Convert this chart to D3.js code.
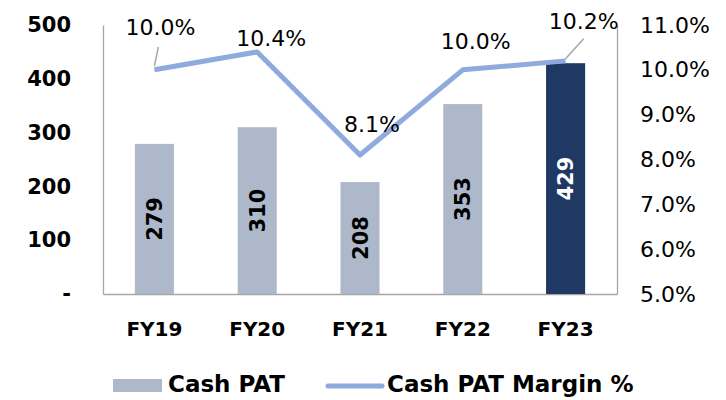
<!DOCTYPE html>
<html>
<head>
<meta charset="utf-8">
<script src="https://cdn.jsdelivr.net/npm/d3@7"></script>
<style>
  body { margin: 0; background: #fff; }
  svg text { font-family: "DejaVu Sans", sans-serif; }
</style>
</head>
<body>
<div id="chart"></div>
<script>
// data
var years = ["FY19", "FY20", "FY21", "FY22", "FY23"];
var cashPat = [279, 310, 208, 353, 429];
var patMargin = [10.0, 10.4, 8.1, 10.0, 10.2];
var leftTicks = [0, 100, 200, 300, 400, 500];
var rightTicks = [5, 6, 7, 8, 9, 10, 11];

var width = 726, height = 400;
var margin = {top: 25, right: 109, bottom: 106, left: 103};
var font = "DejaVu Sans";

var svg = d3.select("#chart").append("svg")
    .attr("width", width)
    .attr("height", height);

// x scale, Excel style gap between bars
var x = d3.scaleBand()
    .domain(years)
    .range([margin.left, width - margin.right])
    .paddingInner(0.62)
    .paddingOuter(0.31);

var yLeft = d3.scaleLinear()
    .domain([0, 500])
    .range([height - margin.bottom, margin.top]);

var yRight = d3.scaleLinear()
    .domain([5, 11])
    .range([height - margin.bottom, margin.top]);

var gridColor = "#a6a6a6";

// left axis
var leftAxis = svg.append("g")
    .attr("transform", "translate(" + margin.left + ",0)")
    .attr("font-family", font)
    .call(d3.axisLeft(yLeft)
        .tickValues(leftTicks)
        .tickSize(0)
        .tickPadding(32)
        .tickFormat(function (d) { return d === 0 ? "-" : d; }));
leftAxis.selectAll("text")
    .style("font-size", "21px")
    .style("font-weight", "bold")
    .attr("fill", "#000");

// right axis
var rightAxis = svg.append("g")
    .attr("transform", "translate(" + (width - margin.right) + ",0)")
    .attr("font-family", font)
    .call(d3.axisRight(yRight)
        .tickValues(rightTicks)
        .tickSize(0)
        .tickPadding(23)
        .tickFormat(function (d) { return d.toFixed(1) + "%"; }));
rightAxis.selectAll("text")
    .style("font-size", "22px")
    .attr("fill", "#000");

// bottom axis
var bottomAxis = svg.append("g")
    .attr("transform", "translate(0," + (height - margin.bottom) + ")")
    .attr("font-family", font)
    .call(d3.axisBottom(x).tickSize(0).tickSizeOuter(0).tickPadding(28));
bottomAxis.selectAll("text")
    .style("font-size", "20px")
    .style("font-weight", "bold")
    .attr("fill", "#000");

svg.selectAll(".domain")
    .attr("stroke", gridColor)
    .attr("stroke-width", 1.3);

// bars
svg.append("g").selectAll("rect")
    .data(cashPat)
    .enter().append("rect")
    .attr("x", function (d, i) { return x(years[i]); })
    .attr("y", function (d) { return yLeft(d); })
    .attr("width", x.bandwidth())
    .attr("height", function (d) { return yLeft(0) - yLeft(d); })
    .attr("fill", function (d, i) { return i === years.length - 1 ? "#203864" : "#adb9ca"; });

// bar labels, rotated
svg.append("g").selectAll("text")
    .data(cashPat)
    .enter().append("text")
    .attr("transform", function (d, i) {
        var cx = x(years[i]) + x.bandwidth() / 2;
        var cy = (yLeft(d) + yLeft(0)) / 2;
        return "translate(" + cx + "," + cy + ") rotate(-90)";
    })
    .attr("text-anchor", "middle")
    .attr("dy", "0.36em")
    .style("font-size", "21px")
    .style("font-weight", "bold")
    .attr("fill", function (d, i) { return i === years.length - 1 ? "#fff" : "#000"; })
    .text(function (d) { return d; });

// margin line
var line = d3.line()
    .x(function (d, i) { return x(years[i]) + x.bandwidth() / 2; })
    .y(function (d) { return yRight(d); });

svg.append("path")
    .datum(patMargin)
    .attr("d", line)
    .attr("fill", "none")
    .attr("stroke", "#8faadc")
    .attr("stroke-width", 5)
    .attr("stroke-linejoin", "round");

// label placement around the points (dx, dy of the label centre)
var labelShift = [[6, -43], [14, -14], [12, -31], [13, -29], [18, -40]];
// leader lines for the labels that sit away from their point
var leaders = [[0, 4, -23, 0, -4], [4, 18, -22, 0, -2]];

leaders.forEach(function (l) {
    var i = l[0];
    var px = x(years[i]) + x.bandwidth() / 2;
    var py = yRight(patMargin[i]);
    svg.append("line")
        .attr("x1", px + l[1]).attr("y1", py + l[2])
        .attr("x2", px + l[3]).attr("y2", py + l[4])
        .attr("stroke", gridColor)
        .attr("stroke-width", 1.5);
});

svg.append("g").selectAll("text")
    .data(patMargin)
    .enter().append("text")
    .attr("x", function (d, i) { return x(years[i]) + x.bandwidth() / 2 + labelShift[i][0]; })
    .attr("y", function (d, i) { return yRight(d) + labelShift[i][1]; })
    .attr("dy", "0.36em")
    .attr("text-anchor", "middle")
    .style("font-size", "22px")
    .attr("fill", "#000")
    .text(function (d) { return d.toFixed(1) + "%"; });

// legend
var legend = svg.append("g");
legend.append("rect")
    .attr("x", 113).attr("y", 379)
    .attr("width", 49).attr("height", 13)
    .attr("fill", "#adb9ca");
legend.append("text")
    .attr("x", 168).attr("y", 392)
    .style("font-size", "23px")
    .style("font-weight", "bold")
    .text("Cash PAT");
legend.append("line")
    .attr("x1", 328).attr("x2", 382)
    .attr("y1", 386).attr("y2", 386)
    .attr("stroke", "#8faadc")
    .attr("stroke-width", 5)
    .attr("stroke-linecap", "round");
legend.append("text")
    .attr("x", 387).attr("y", 392)
    .style("font-size", "23px")
    .style("font-weight", "bold")
    .text("Cash PAT Margin %");
</script>
</body>
</html>
